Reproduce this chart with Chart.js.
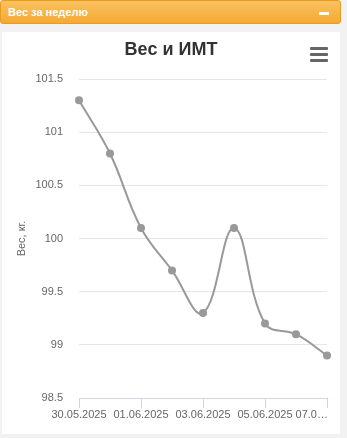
<!DOCTYPE html>
<html>
<head>
<meta charset="utf-8">
<script src="https://cdn.jsdelivr.net/npm/chart.js@4/dist/chart.umd.min.js"></script>
<style>
  html, body { margin: 0; padding: 0; }
  body {
    width: 347px; height: 438px; overflow: hidden; position: relative;
    background: #f2f2f2; font-family: "Liberation Sans", Arial, sans-serif;
  }
  .widget-head {
    position: absolute; left: 0; top: 0; width: 339px; height: 22px;
    background: linear-gradient(#f9c25f, #f5a935);
    border: 1px solid #e99b1f; border-radius: 3px;
  }
  .widget-head span {
    position: absolute; left: 7px; top: 5px; color: #fff; font-size: 11px; font-weight: bold;
  }
  .widget-head i {
    position: absolute; left: 318px; top: 11px; width: 10px; height: 3px; background: #fff;
  }
  .panel {
    position: absolute; left: 2px; top: 32px; width: 338px; height: 402px; background: #fff;
  }
  .panel canvas { position: absolute; left: 0; top: 0; }
  .menu { position: absolute; left: 308px; top: 15px; width: 18px; }
  .menu b { display: block; height: 3px; margin-bottom: 3px; background: #666; border-radius: 1px; }
</style>
</head>
<body>
<div class="widget-head"><span>Вес за неделю</span><i></i></div>
<div class="panel">
  <canvas id="weightChart" width="338" height="402"></canvas>
  <div class="menu"><b></b><b></b><b></b></div>
</div>
<script>
  const dates = ['30.05.2025', '31.05.2025', '01.06.2025', '02.06.2025', '03.06.2025',
    '04.06.2025', '05.06.2025', '06.06.2025', '07.06.2025'];
  const weights = [101.3, 100.8, 100.1, 99.7, 99.3, 100.1, 99.2, 99.1, 98.9];
  const yTicks = [98.5, 99, 99.5, 100, 100.5, 101, 101.5];

  const textColor = '#666666';
  const gridColor = '#e6e6e6';
  const axisColor = '#ccd6eb';
  const lineColor = '#999999';
  const fontFamily = '"Liberation Sans", Arial, sans-serif';

  new Chart(document.getElementById('weightChart'), {
    type: 'line',
    data: {
      labels: dates,
      datasets: [
        {
          label: 'Вес',
          data: weights,
          borderColor: lineColor,
          backgroundColor: lineColor,
          borderWidth: 2,
          tension: 0.4,
          pointRadius: 4,
          pointBackgroundColor: lineColor,
          pointBorderWidth: 0,
        },
      ],
    },
    options: {
      responsive: false,
      animation: false,
      layout: { padding: 0 },
      plugins: {
        legend: { display: false },
        tooltip: { enabled: false },
        title: {
          display: true,
          text: 'Вес и ИМТ',
          color: '#333333',
          font: { family: fontFamily, size: 18, weight: 'bold' },
          padding: { top: 7.5, bottom: 18 },
        },
      },
      scales: {
        x: {
          offset: false,
          afterBuildTicks: function (scale) {
            scale.ticks = scale.ticks.filter(function (t) { return t.value % 2 === 0; });
          },
          afterFit: function (scale) {
            scale.height = 36;
            scale.paddingLeft = 0;
            scale.paddingRight = 13;
          },
          ticks: {
            autoSkip: false,
            maxRotation: 0,
            padding: 0,
            color: textColor,
            font: { family: fontFamily, size: 11 },
            callback: function (value) {
              const label = this.getLabelForValue(value);
              // last label is cut short like in the original widget
              if (value === dates.length - 1) {
                return label.slice(0, 4) + '\u2026' + '          ';
              }
              return label;
            },
          },
          grid: { drawOnChartArea: false, drawTicks: true, tickLength: 10, color: axisColor },
          border: { color: axisColor },
        },
        y: {
          min: yTicks[0],
          max: yTicks[yTicks.length - 1],
          afterBuildTicks: function (scale) {
            scale.ticks = yTicks.map(function (v) { return { value: v }; });
          },
          afterFit: function (scale) {
            scale.width = 77;
          },
          ticks: {
            padding: 16,
            color: textColor,
            font: { family: fontFamily, size: 11 },
            callback: function (value) {
              return String(value);
            },
          },
          grid: { color: gridColor, drawTicks: false },
          border: { display: false },
          title: {
            display: true,
            text: 'Вес, кг.',
            color: textColor,
            font: { family: fontFamily, size: 11 },
            padding: { top: 13, bottom: 0 },
          },
        },
      },
    },
  });
</script>
</body>
</html>
